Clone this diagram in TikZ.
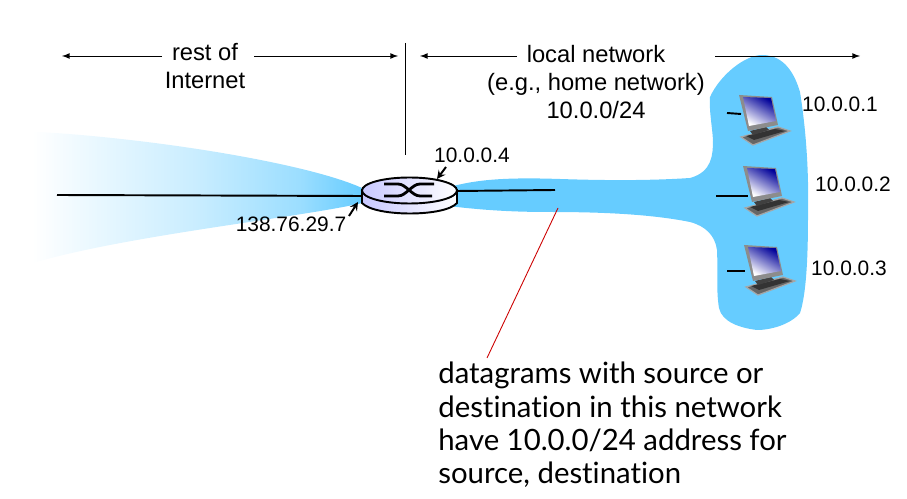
\documentclass[tikz,border=0pt]{standalone}
\usepackage{xcolor}
\usepackage{fontspec}
\setmainfont{Liberation Sans}
\newfontfamily\notefont[Ligatures=NoCommon]{Lato}
\usetikzlibrary{shapes,arrows,positioning}
\definecolor{netblue}{HTML}{66CCFF}
\definecolor{routerblue}{HTML}{C8C8FF}
\pgfdeclarehorizontalshading{wanfade}{100bp}{color(0bp)=(white); color(27.5bp)=(white); color(37bp)=(netblue!15); color(51bp)=(netblue!35); color(66bp)=(netblue!65); color(75bp)=(netblue); color(100bp)=(netblue)}
\tikzset{
    span/.style={-latex,line width=0.5pt},
    wire/.style={line width=1.1pt},
    pointer/.style={-stealth,line width=1.1pt},
    netlabel/.style={font=\fontsize{13.5}{16}\selectfont,align=center},
    addr/.style={font=\fontsize{11.9}{14}\selectfont},
    routertop/.style={ellipse,draw,line width=1.1pt,minimum width=1.9cm,minimum height=0.52cm,inner sep=0pt,left color=routerblue,right color=white},
    pics/computer/.style={code={
        \fill[black!60] (2,42) -- (39,32) -- (51,36) -- (14,50) -- cycle;
        \draw[white!65!black,line width=0.7pt] (2,42) -- (39,32) -- (51,36) -- (14,50) -- cycle;
        \fill[black!80] (7,41) -- (36,34) -- (46,36) -- (15,45) -- cycle;
        \fill[black!75] (11,36) -- (27,32) -- (30,35) -- (14,40) -- cycle;
        \fill[black!45] (0,0) -- (33,2) -- (39,30) -- (9,36) -- cycle;
        \shade[left color=blue!60!black,right color=white,shading angle=-30] (4,2) -- (32,3) -- (37,26) -- (10,31) -- cycle;
    }}
}
\begin{document}
\begin{tikzpicture}[x=0.2mm,y=-0.2mm]
    \useasboundingbox (0,0) rectangle (907,499);
    \shade[shading=wanfade] (15,131) .. controls (120,134) and (300,160) .. (362,188)
        -- (362,203) .. controls (300,218) and (100,238) .. (15,269) -- cycle;
    \fill[netblue] (440,190) .. controls (470,180) and (500,177) .. (560,179)
        .. controls (620,181) and (660,180) .. (690,178)
        .. controls (712,172) and (713,155) .. (713,140)
        .. controls (712,125) and (709,110) .. (710,97)
        .. controls (720,75) and (745,55) .. (762,55)
        .. controls (785,55) and (795,75) .. (800,92)
        .. controls (806,130) and (809,170) .. (808,217)
        .. controls (808,260) and (806,295) .. (800,313)
        .. controls (790,325) and (770,330) .. (757,330)
        .. controls (740,328) and (722,322) .. (719,308)
        .. controls (716,290) and (718,270) .. (717,250)
        .. controls (715,235) and (705,226) .. (690,222)
        .. controls (650,214) and (600,212) .. (550,212)
        .. controls (510,212) and (480,210) .. (440,205) -- cycle;

    \coordinate (restL) at (62,56);
    \coordinate (restM) at (162,56);
    \coordinate (restN) at (254,56);
    \coordinate (restR) at (398,56);
    \coordinate (localL) at (420,56);
    \coordinate (localM) at (517,56);
    \coordinate (localN) at (715,56);
    \coordinate (localR) at (860,56);
    \draw[span] (restM) -- (restL);
    \draw[span] (restN) -- (restR);
    \draw[span] (localM) -- (localL);
    \draw[span] (localN) -- (localR);
    \coordinate (splitT) at (405,43);
    \coordinate (splitB) at (405,155);
    \draw[line width=0.5pt] (splitT) -- (splitB);

    \node[netlabel] (rest) at (205,66) {rest of\\Internet};
    \node[netlabel] (local) at (596,82) {local network\\(e.g., home network)\\10.0.0/24};

    % router
    \draw[wire,left color=routerblue,right color=white] (362,190) -- (362,203) .. controls (375,217) and (445,217) .. (457,203) -- (457,190) -- cycle;
    \node[routertop] (router) at (409.5,190.5) {};
    \draw[line width=1.6pt] (384,184) -- (398,184) .. controls (406,184) and (412,196) .. (420,196) -- (432,196);
    \draw[line width=1.6pt] (384,196) -- (398,196) .. controls (406,196) and (412,184) .. (420,184) -- (434,184);

    \coordinate (wanEnd) at (57,195);
    \coordinate (routerL) at (362,196);
    \coordinate (routerR) at (457,191);
    \coordinate (lanEnd) at (555,190);
    \draw[wire] (wanEnd) -- (routerL);
    \draw[wire] (routerR) -- (lanEnd);

    \pic (pcA) at (739,95) {computer};
    \pic (pcB) at (743,166) {computer};
    \pic (pcC) at (744,245) {computer};
    \draw[wire] (727,113) -- (741,114);
    \draw[wire] (716,196) -- (748,196);
    \draw[wire] (727,271) -- (745,271);

    \node[addr] (hostA) at (840,104) {10.0.0.1};
    \node[addr] (hostB) at (853,184) {10.0.0.2};
    \node[addr] (hostC) at (849,268) {10.0.0.3};
    \node[addr] (inner) at (472,155) {10.0.0.4};
    \node[addr] (outer) at (291,224) {138.76.29.7};

    \coordinate (innerFoot) at (446,167);
    \coordinate (innerTip) at (437,179);
    \coordinate (outerFoot) at (349,216);
    \coordinate (outerTip) at (358,202);
    \draw[pointer] (innerFoot) -- (innerTip);
    \draw[pointer] (outerFoot) -- (outerTip);

    \node[anchor=north west,inner sep=0pt,align=left,font=\notefont\fontsize{16.7}{18.9}\selectfont] (note) at (438,362)
        {datagrams with source or\\destination in this network\\have 10.0.0/24 address for\\source, destination};
    \coordinate (noteTip) at (487,358);
    \coordinate (bandEdge) at (558,208);
    \draw[red!80!black,line width=0.5pt] (noteTip) -- (bandEdge);
\end{tikzpicture}
\end{document}
